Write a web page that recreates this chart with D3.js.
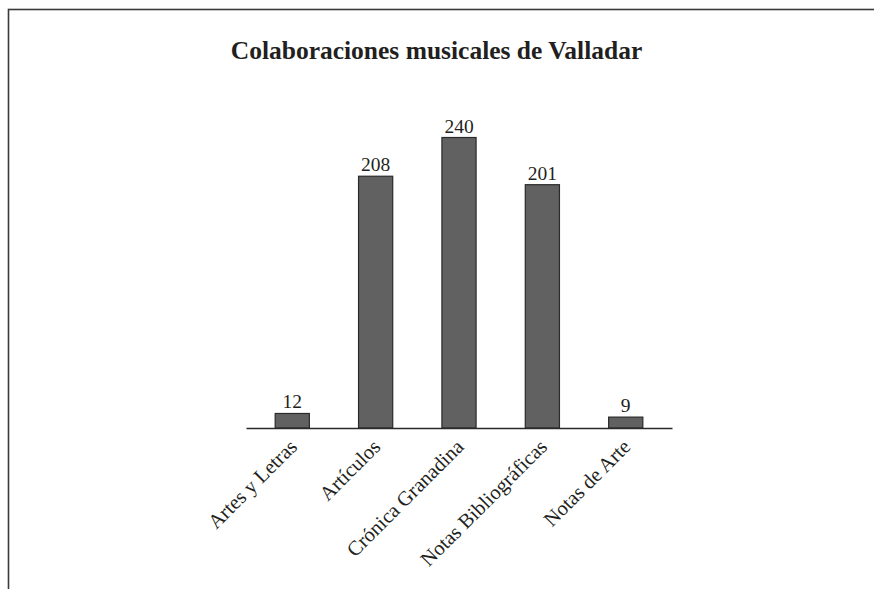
<!DOCTYPE html>
<html>
<head>
<meta charset="utf-8">
<script src="https://cdn.jsdelivr.net/npm/d3@7"></script>
<style>
  body { margin: 0; background: #fff; }
  svg { display: block; }
  text { font-family: "Liberation Serif", "DejaVu Serif", serif; fill: #231f20; }
</style>
</head>
<body>
<div id="container"></div>
<script>
const width = 874;
const height = 589;

// data
const categories = ["Artes y Letras", "Artículos", "Crónica Granadina", "Notas Bibliográficas", "Notas de Arte"];
const values = [12, 208, 240, 201, 9];
const title = "Colaboraciones musicales de Valladar";

const svg = d3.select("div#container").append("svg")
    .attr("width", width)
    .attr("height", height);

// frame (right and bottom edges fall outside the picture)
svg.append("rect")
    .attr("x", 8.5)
    .attr("y", 9.5)
    .attr("width", 900)
    .attr("height", 620)
    .attr("fill", "none")
    .attr("stroke", "#3a3a3a")
    .attr("stroke-width", 1.6);

//----------------------------SCALES----------------------------//
const xScale = d3.scaleBand()
    .domain(categories)
    .range([246, 672])
    .paddingInner(0.59)
    .paddingOuter(0.35);

const yScale = d3.scaleLinear()
    .domain([0, 240])
    .range([428, 137.5]);

//----------------------------TITLE-----------------------------//
svg.append("text")
    .attr("x", 436.5)
    .attr("y", 59)
    .attr("text-anchor", "middle")
    .style("font-weight", "bold")
    .style("font-size", "25.5px")
    .text(title);

//-----------------------------BARS-----------------------------//
const data = categories.map((c, i) => ({ cat: c, value: values[i] }));

svg.selectAll("rect.bar")
    .data(data)
    .enter()
    .append("rect")
    .attr("class", "bar")
    .attr("x", d => xScale(d.cat))
    .attr("y", d => yScale(d.value))
    .attr("width", xScale.bandwidth())
    .attr("height", d => yScale(0) - yScale(d.value))
    .attr("fill", "#616161")
    .attr("stroke", "#2a2a2a")
    .attr("stroke-width", 1.2);

svg.selectAll("text.val")
    .data(data)
    .enter()
    .append("text")
    .attr("class", "val")
    .attr("x", d => xScale(d.cat) + xScale.bandwidth() / 2)
    .attr("y", d => yScale(d.value) - 5)
    .attr("text-anchor", "middle")
    .style("font-size", "19.5px")
    .text(d => d.value);

//-----------------------------AXIS-----------------------------//
const xaxis = d3.axisBottom(xScale).tickSize(0).tickPadding(0);

const gx = svg.append("g")
    .attr("transform", "translate(0," + yScale(0) + ")")
    .call(xaxis);

gx.select(".domain")
    .attr("stroke", "#2a2a2a")
    .attr("stroke-width", 1.5);

gx.selectAll(".tick text")
    .attr("fill", "#231f20")
    .style("font-family", "'Liberation Serif', serif")
    .style("font-size", "20.5px")
    .attr("text-anchor", "end")
    .attr("transform", "translate(6,20) rotate(-45)")
    .attr("dy", 0)
    .attr("y", 0);
</script>
</body>
</html>
